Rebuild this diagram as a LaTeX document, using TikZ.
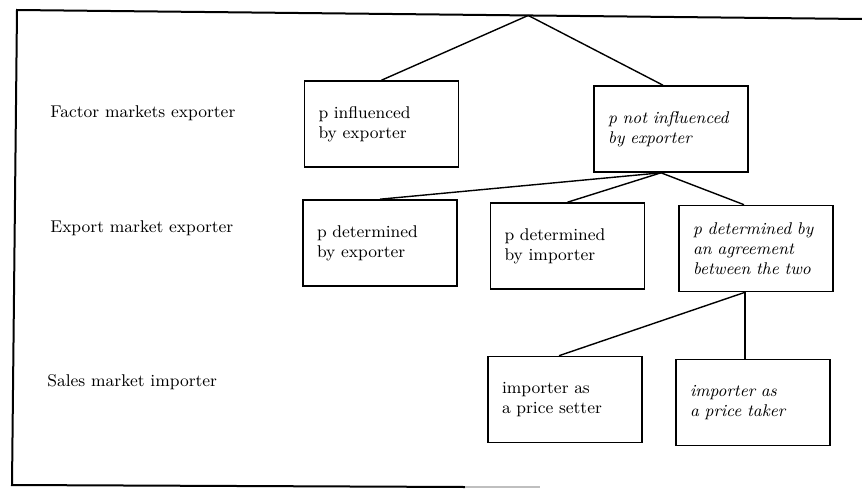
\documentclass[tikz,border=0pt]{standalone}
\usepackage{amssymb, amsmath}
\usepackage{tikz}
\usetikzlibrary{calc}
\begin{document}
\begin{tikzpicture}[x=0.5pt,y=-0.5pt]
      \tikzset{level label/.style={anchor=west,
          inner sep=0pt,
          font=\fontsize{8.5}{10}\selectfont},
        choice box/.style={draw,
          line width=0.8pt,
          minimum height=43pt,
          text width=63pt,
          inner xsep=7pt,
          align=left,
          font=\fontsize{8.5}{10}\selectfont},
        italic box/.style={choice box,
          font=\fontsize{8.5}{10}\selectfont\itshape}
      }
      \useasboundingbox (0,0) rectangle (862,493);
      \coordinate (TL) at (17,10);
      \coordinate (TR) at (862,19);
      \coordinate (BL) at (12,485);
      \coordinate (BR) at (465,487);
      \coordinate (BE) at (540,487);
      \coordinate (apex) at ($(TL)!.605!(TR)$);
      \draw [line width=1pt] (TR)--(TL)--(BL)--(BR);
      \draw [line width=1pt,black!25] (BR)--(BE);

      \node [level label] (factor) at (50,113) {Factor markets exporter};
      \node [level label] (export) at (50,228) {Export market exporter};
      \node [level label] (sales) at (47,382) {Sales market importer};

      \node [choice box] (infl) at (381.5,124) {p influenced\\by exporter};
      \node [italic box] (notinfl) at (671,129) {p not influenced\\by exporter};
      \node [choice box] (detexp) at (380,243) {p determined\\by exporter};
      \node [choice box] (detimp) at (567.5,246) {p determined\\by importer};
      \node [italic box] (agree) at (756,248.5) {p determined by\\an agreement\\between the two};
      \node [choice box] (setter) at (565,399.5) {importer as\\a price setter};
      \node [italic box] (taker) at (753,402.5) {importer as\\a price taker};

      \coordinate (fork) at ($(notinfl.south)+(-10,0)$);
      \coordinate (fork2) at ($(agree.south)+(-11,0)$);
      \draw [line width=0.7pt] (apex)--(infl.north);
      \draw [line width=0.7pt] (apex)--($(notinfl.north)+(-8,0)$);
      \draw [line width=0.7pt] (fork)--(detexp.north);
      \draw [line width=0.7pt] (fork)--(detimp.north);
      \draw [line width=0.7pt] (fork)--($(agree.north)+(-12,0)$);
      \draw [line width=0.7pt] (fork2)--($(setter.north)+(-6,0)$);
      \draw [line width=0.7pt] (fork2)--(fork2 |- taker.north);
    \end{tikzpicture}
\end{document}
